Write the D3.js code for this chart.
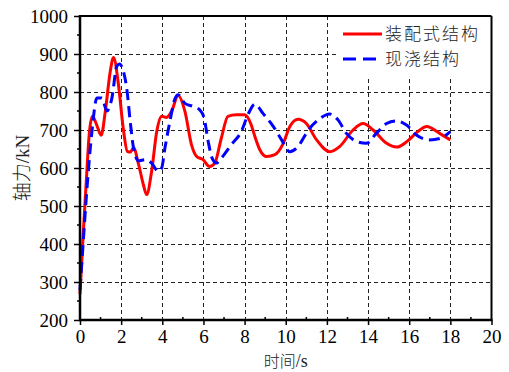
<!DOCTYPE html>
<html>
<head>
<meta charset="utf-8">
<script src="https://cdn.jsdelivr.net/npm/d3@7/dist/d3.min.js"></script>
<style>
  html, body { margin: 0; padding: 0; background: #fff; }
  svg { display: block; }
</style>
</head>
<body>
<svg id="chart" width="509" height="372"></svg>
<script>
// Axial force response over time: prefabricated vs. cast-in-place structure
const seriesNames = ["装配式结构", "现浇结构"];

const prefabTime = [0, 0.15, 0.3, 0.45, 0.6, 0.8, 1.03, 1.23, 1.47, 1.63, 1.87, 2.1, 2.3, 2.45, 2.6, 2.85, 3.08, 3.24, 3.48, 3.73, 3.97, 4.2, 4.45, 4.77, 5.1, 5.42, 5.66, 5.98, 6.3, 6.55, 6.87, 7.19, 7.6, 8.0, 8.32, 8.5, 8.74, 9.07, 9.47, 9.88, 10.2, 10.6, 11.0, 11.5, 12.14, 12.63, 13.27, 13.76, 14.25, 14.9, 15.4, 15.9, 16.4, 16.85, 17.48, 18.0];
const prefabForce = [268, 420, 560, 690, 736, 715, 686, 749, 854, 891, 819, 705, 644, 642, 653, 609, 556, 530, 591, 696, 736, 733, 749, 791, 749, 661, 631, 622, 604, 613, 679, 736, 740, 740, 714, 683, 648, 630, 635, 665, 709, 728, 717, 674, 643, 657, 700, 717, 700, 665, 655, 670, 695, 709, 691, 674];

const castTime = [0, 0.15, 0.34, 0.58, 0.82, 1.06, 1.31, 1.55, 1.79, 1.92, 2.11, 2.27, 2.44, 2.6, 2.84, 3.16, 3.48, 3.81, 3.97, 4.13, 4.37, 4.6, 4.77, 5.1, 5.5, 5.82, 6.03, 6.23, 6.42, 6.63, 6.87, 7.35, 7.84, 8.16, 8.5, 8.9, 9.4, 9.8, 10.2, 10.6, 11.1, 11.66, 12.14, 12.55, 12.95, 13.44, 13.92, 14.4, 14.9, 15.38, 15.87, 16.35, 17.0, 17.5, 18.0];
const castForce = [279, 400, 547, 696, 784, 784, 750, 784, 868, 874, 854, 810, 723, 653, 619, 622, 613, 591, 600, 653, 723, 780, 793, 770, 762, 753, 732, 670, 626, 613, 626, 661, 696, 740, 768, 743, 709, 674, 643, 657, 700, 730, 742, 726, 691, 670, 665, 691, 717, 724, 713, 687, 674, 678, 696];

const xTicks = [0, 2, 4, 6, 8, 10, 12, 14, 16, 18, 20];
const xMinorTicks = [1, 3, 5, 7, 9, 11, 13, 15, 17, 19];
const yTicks = [200, 300, 400, 500, 600, 700, 800, 900, 1000];
const yMinorTicks = [250, 350, 450, 550, 650, 750, 850, 950];

const serif = "Liberation Serif, Times New Roman, Times, DejaVu Serif, serif";
const cjk = "Noto Sans CJK SC, sans-serif";

const svg = d3.select("#chart");
const L = 80, R = 491.5, T = 16, B = 320;

const x = d3.scaleLinear().domain([0, 20]).range([L, R]);
const y = d3.scaleLinear().domain([200, 1000]).range([B, T]);

// dashed grid
const grid = svg.append("g").attr("stroke", "#222").attr("stroke-width", 1).attr("stroke-dasharray", "4,3");
grid.selectAll("line.v").data(xTicks.filter(d => d > 0 && d < 20)).enter().append("line")
  .attr("x1", d => Math.round(x(d)) + 0.5).attr("x2", d => Math.round(x(d)) + 0.5)
  .attr("y1", T).attr("y2", B);
grid.selectAll("line.h").data(yTicks.filter(d => d > 200 && d < 1000)).enter().append("line")
  .attr("x1", L).attr("x2", R)
  .attr("y1", d => Math.round(y(d)) + 0.5).attr("y2", d => Math.round(y(d)) + 0.5);

// curves
const line = d3.line().x(d => x(d[0])).y(d => y(d[1])).curve(d3.curveMonotoneX);
const prefab = prefabTime.map((t, i) => [t, prefabForce[i]]);
const cast = castTime.map((t, i) => [t, castForce[i]]);

svg.append("path").datum(prefab).attr("d", line)
  .attr("fill", "none").attr("stroke", "#ff0000").attr("stroke-width", 3).attr("stroke-linejoin", "round");
svg.append("path").datum(cast).attr("d", line)
  .attr("fill", "none").attr("stroke", "#0000ff").attr("stroke-width", 3).attr("stroke-dasharray", "11,6");

// legend
const lg = svg.append("g");
lg.append("rect").attr("x", 338).attr("y", T + 1).attr("width", R - 339).attr("height", 61).attr("fill", "#fff");
const legendRows = [
  { name: seriesNames[0], color: "#ff0000", dash: null, cy: 34 },
  { name: seriesNames[1], color: "#0000ff", dash: "13,7", cy: 59 }
];
legendRows.forEach(r => {
  lg.append("line").attr("x1", 343).attr("x2", 382).attr("y1", r.cy).attr("y2", r.cy)
    .attr("stroke", r.color).attr("stroke-width", 3).attr("stroke-dasharray", r.dash);
  lg.append("text").attr("x", 385).attr("y", r.cy).attr("dy", "0.36em")
    .style("font-family", cjk).attr("font-size", 17).attr("letter-spacing", 2).attr("font-weight", 300)
    .attr("fill", "#222").text(r.name);
});

// axes
const xAxis = svg.append("g").attr("transform", `translate(0,${B})`)
  .call(d3.axisBottom(x).tickValues(xTicks).tickFormat(d3.format("d")).tickSize(5).tickPadding(5));
xAxis.select(".domain").remove();
xAxis.selectAll(".tick line").attr("stroke", "#000").attr("stroke-width", 1.5);
xAxis.selectAll(".tick text").attr("fill", "#000").style("font-family", serif).style("font-size", "19px");

svg.append("g").selectAll("line").data(xMinorTicks).enter().append("line")
  .attr("x1", d => x(d)).attr("x2", d => x(d)).attr("y1", B).attr("y2", B - 3)
  .attr("stroke", "#000").attr("stroke-width", 1.5);

const yAxis = svg.append("g").attr("transform", `translate(${L},0)`)
  .call(d3.axisLeft(y).tickValues(yTicks).tickFormat(d3.format("d")).tickSize(6).tickPadding(6));
yAxis.select(".domain").remove();
yAxis.selectAll(".tick line").attr("stroke", "#000").attr("stroke-width", 1.5);
yAxis.selectAll(".tick text").attr("fill", "#000").style("font-family", serif).style("font-size", "19px");

svg.append("g").selectAll("line").data(yMinorTicks).enter().append("line")
  .attr("x1", L).attr("x2", L - 3).attr("y1", d => y(d)).attr("y2", d => y(d))
  .attr("stroke", "#000").attr("stroke-width", 1.5);

// frame
svg.append("line").attr("x1", L).attr("x2", R).attr("y1", T).attr("y2", T).attr("stroke", "#000").attr("stroke-width", 2);
svg.append("line").attr("x1", R).attr("x2", R).attr("y1", T).attr("y2", B).attr("stroke", "#000").attr("stroke-width", 2);
svg.append("line").attr("x1", L).attr("x2", L).attr("y1", T - 1).attr("y2", B + 1).attr("stroke", "#000").attr("stroke-width", 2.5);
svg.append("line").attr("x1", L - 1).attr("x2", R + 1).attr("y1", B).attr("y2", B).attr("stroke", "#000").attr("stroke-width", 2.5);

// axis titles
const xt = svg.append("text").attr("x", (L + R) / 2).attr("y", 367).attr("text-anchor", "middle")
  .style("font-size", "16px").attr("fill", "#222");
xt.append("tspan").style("font-family", cjk).attr("font-weight", 300).text("时间");
xt.append("tspan").style("font-family", serif).style("font-size", "18px").text("/s");

const yt = svg.append("text").attr("transform", `translate(29,${(T + B) / 2}) rotate(-90)`).attr("text-anchor", "middle")
  .style("font-size", "19px").attr("fill", "#222");
yt.append("tspan").style("font-family", cjk).attr("font-weight", 300).text("轴力");
yt.append("tspan").style("font-family", serif).text("/kN");
</script>
</body>
</html>
